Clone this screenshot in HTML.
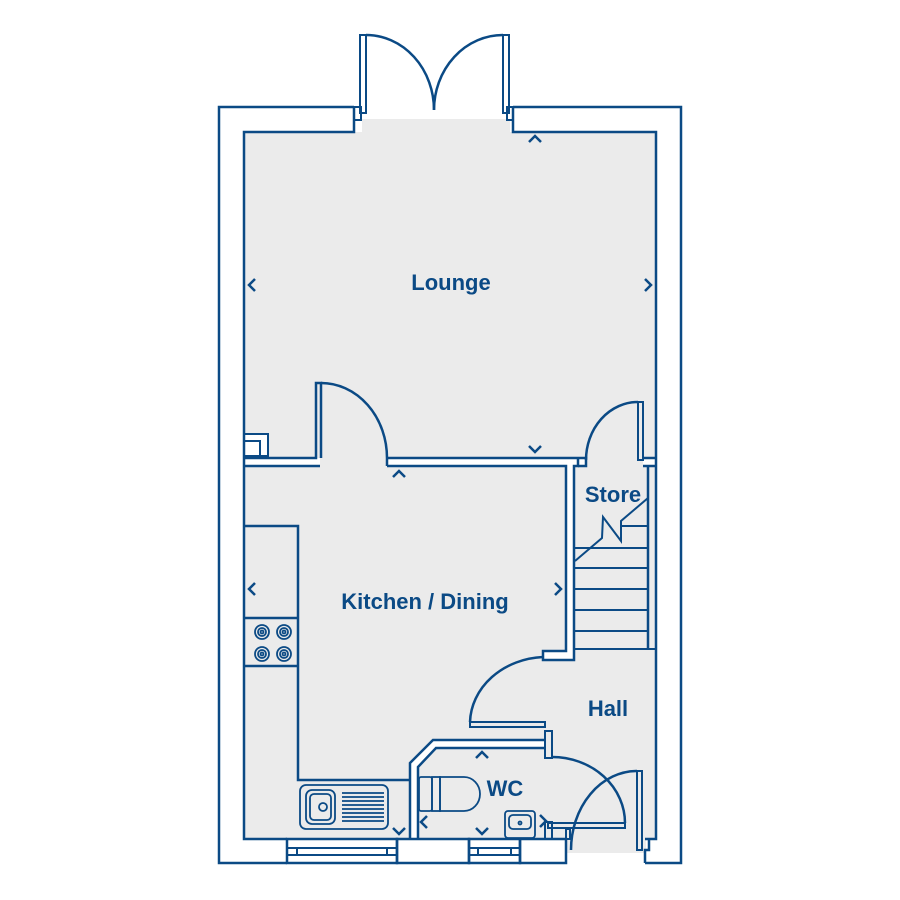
<!DOCTYPE html>
<html><head><meta charset="utf-8"><style>
html,body{margin:0;padding:0;background:#fff;}
svg{display:block;}
text{font-family:"Liberation Sans",sans-serif;font-weight:bold;fill:#0b4a85;}
</style></head><body>
<svg width="900" height="900" viewBox="0 0 900 900" xmlns="http://www.w3.org/2000/svg">
<g fill="#ebebeb" stroke="none">
<rect x="244" y="132" width="412" height="707"/>
<rect x="362" y="119" width="148" height="14"/>
<rect x="566" y="835" width="80" height="18"/>
</g>
<!-- white wall interiors -->
<g fill="#fff" stroke="none">
<rect x="244" y="458" width="76" height="8"/>
<rect x="387" y="458" width="191" height="8"/>
<rect x="566" y="458" width="8" height="198"/>
<rect x="543" y="651" width="31" height="9"/>
<rect x="578" y="458" width="8" height="8"/>
<rect x="643" y="458" width="13" height="8"/>
<polygon points="410,839 410,763 433,740 545,740 545,748 436,748 418,767 418,839"/>
<rect x="244" y="434" width="24" height="22"/>
</g>
<g fill="none" stroke="#0b4a85" stroke-width="2.5">
<path d="M354 107 H219 V863 H287"/>
<path d="M354 107 V132 H244 V839 H287"/>
<path d="M513 107 H681 V863 H645"/>
<path d="M513 107 V132 H656 V839 H645"/>
<rect x="354" y="107" width="7" height="13" stroke-width="2"/>
<rect x="507" y="107" width="6" height="13" stroke-width="2"/>
<rect x="360" y="35" width="6" height="78" stroke-width="2"/>
<rect x="503" y="35" width="6" height="78" stroke-width="2"/>
<path d="M366 35 A68 75 0 0 1 434 110"/>
<path d="M503 35 A69 75 0 0 0 434 110"/>
<rect x="287" y="839" width="110" height="24"/>
<line x1="287" y1="848" x2="397" y2="848" stroke-width="2"/>
<line x1="287" y1="855" x2="397" y2="855" stroke-width="2"/>
<line x1="297" y1="848" x2="297" y2="855" stroke-width="2"/>
<line x1="387" y1="848" x2="387" y2="855" stroke-width="2"/>
<rect x="397" y="839" width="72" height="24"/>
<rect x="469" y="839" width="51" height="24"/>
<line x1="469" y1="848" x2="520" y2="848" stroke-width="2"/>
<line x1="469" y1="855" x2="520" y2="855" stroke-width="2"/>
<line x1="478" y1="848" x2="478" y2="855" stroke-width="2"/>
<line x1="511" y1="848" x2="511" y2="855" stroke-width="2"/>
<rect x="520" y="839" width="46" height="24"/>
<rect x="566" y="829" width="4" height="10" stroke-width="2"/>
<path d="M645 863 V850 H649 V839"/>
<path d="M244 458 H316 V383 H321 V458"/>
<path d="M244 466 H320"/>
<rect x="244" y="434" width="24" height="22" stroke-width="2"/>
<path d="M244 441 H260 V456" stroke-width="2"/>
<path d="M321 383 A66 75 0 0 1 387 458"/>
<path d="M387 458 H578 M387 466 H566 V651 H543 V660 H574 V466 H578 V458 M387 458 V466"/>
<rect x="638" y="402" width="5" height="58" stroke-width="2"/>
<path d="M638 402 A52 58 0 0 0 586 460"/>
<path d="M578 458 H586 V466 H578"/>
<path d="M643 458 H656 M643 466 H648 V649 M648 466 H656"/>
<path d="M574 649 H656 M574 631 H648 M574 610 H648 M574 589 H648 M574 568 H648 M574 548 H648 M621 526 H648" stroke-width="2"/>
<path d="M575 561 L602 538 L603 517 L621 541 L621 521 L648 498" stroke-width="2"/>
<path d="M244 526 H298 V780 H410 M244 618 H298 M244 666 H298"/>
<g stroke-width="1.8">
<circle cx="262" cy="632" r="7"/><circle cx="262" cy="632" r="4"/><circle cx="262" cy="632" r="1.5"/>
<circle cx="284" cy="632" r="7"/><circle cx="284" cy="632" r="4"/><circle cx="284" cy="632" r="1.5"/>
<circle cx="262" cy="654" r="7"/><circle cx="262" cy="654" r="4"/><circle cx="262" cy="654" r="1.5"/>
<circle cx="284" cy="654" r="7"/><circle cx="284" cy="654" r="4"/><circle cx="284" cy="654" r="1.5"/>
<rect x="300" y="785" width="88" height="44" rx="6"/>
<rect x="306" y="790" width="29" height="34" rx="6"/>
<rect x="310" y="794" width="21" height="26" rx="4"/>
<circle cx="323" cy="807" r="4"/>
<path d="M342 793H384M342 797H384M342 801H384M342 805H384M342 809H384M342 813H384M342 817H384M342 821H384"/>
</g>
<path d="M410 839 V763 L433 740 H545 M418 839 V767 L436 748 H545"/>
<rect x="545" y="731" width="7" height="27" stroke-width="2"/>
<rect x="545" y="822" width="7" height="17" stroke-width="2"/>
<rect x="470" y="722" width="75" height="5" stroke-width="2"/>
<path d="M470 722 A77 67 0 0 1 543 657"/>
<rect x="548" y="823" width="77" height="5" stroke-width="2"/>
<path d="M552 757 A73 66 0 0 1 625 823"/>
<rect x="637" y="771" width="5" height="79" stroke-width="2"/>
<path d="M637 771 A66 79 0 0 0 571 850"/>
<g stroke-width="1.8">
<rect x="419" y="777" width="13" height="34" rx="2"/>
<rect x="432" y="777" width="8" height="34"/>
<path d="M440 777 H464 A16 17 0 0 1 464 811 H440 Z"/>
<rect x="505" y="811" width="30" height="27" rx="3"/>
<rect x="509" y="815" width="22" height="14" rx="4"/>
<circle cx="520" cy="823" r="1.5"/>
</g>
<g stroke-width="2.5">
<path d="M529 142 L535 136 L541 142"/>
<path d="M255 279 L249 285 L255 291"/>
<path d="M645 279 L651 285 L645 291"/>
<path d="M529 446 L535 452 L541 446"/>
<path d="M393 477 L399 471 L405 477"/>
<path d="M255 583 L249 589 L255 595"/>
<path d="M555 583 L561 589 L555 595"/>
<path d="M476 758 L482 752 L488 758"/>
<path d="M427 816 L421 822 L427 828"/>
<path d="M476 828 L482 834 L488 828"/>
<path d="M393 828 L399 834 L405 828"/>
<path d="M540 815 L546 821 L540 827"/>
</g>
</g>
<text x="451" y="290" font-size="22" text-anchor="middle">Lounge</text>
<text x="613" y="502" font-size="22" text-anchor="middle">Store</text>
<text x="425" y="609" font-size="22" text-anchor="middle">Kitchen / Dining</text>
<text x="608" y="716" font-size="22" text-anchor="middle">Hall</text>
<text x="505" y="796" font-size="22" text-anchor="middle">WC</text>
</svg>
</body></html>
